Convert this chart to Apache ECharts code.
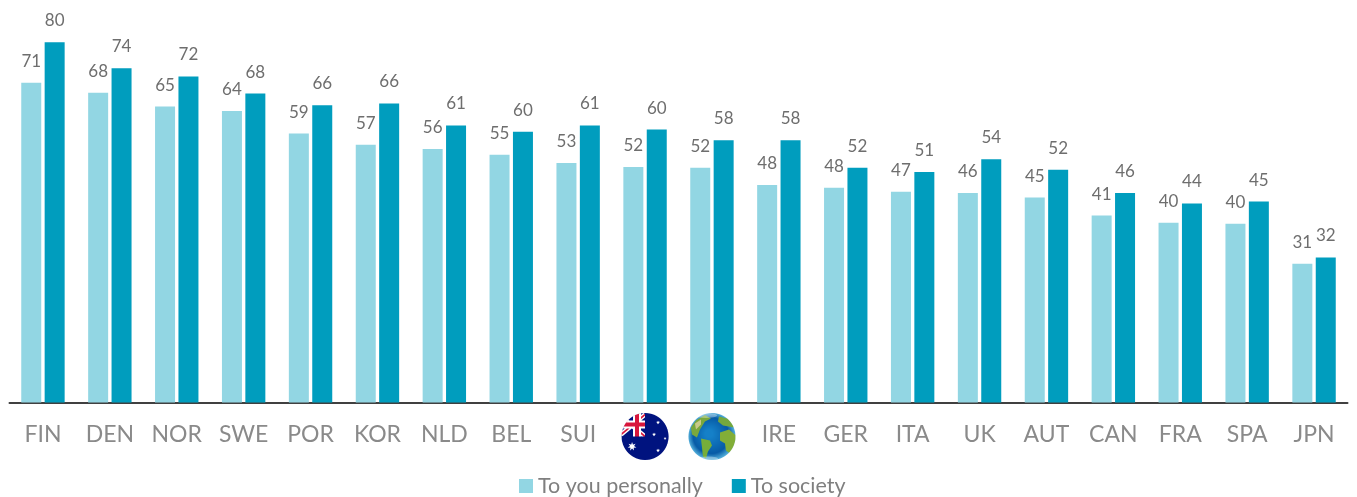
<!DOCTYPE html>
<html><head><meta charset="utf-8">
<style>html,body{margin:0;padding:0;background:#fff}#c{width:1357px;height:497px}</style>
<script src="https://cdn.jsdelivr.net/npm/echarts@6/dist/echarts.min.js"></script>
</head><body><div id="c"></div>
<script>
const categories=['FIN','DEN','NOR','SWE','POR','KOR','NLD','BEL','SUI','AUS','WORLD','IRE','GER','ITA','UK','AUT','CAN','FRA','SPA','JPN'];
const personalLabels=[71,68,65,64,59,57,56,55,53,52,52,48,48,47,46,45,41,40,40,31];
const societyLabels=[80,74,72,68,66,66,61,60,61,60,58,58,52,51,54,52,46,44,45,32];
const personalValues=[71,68.8,65.7,64.7,59.7,57.2,56.3,55,53.2,52.3,52.1,48.3,47.7,46.8,46.5,45.5,41.5,39.9,39.7,30.8];
const societyValues=[80,74.2,72.4,68.6,66,66.4,61.5,60.1,61.5,60.6,58.2,58.2,52.1,51.2,54,51.7,46.5,44.2,44.6,32.2];
const seriesNames=['To you personally','To society'];

function makeAus(){
  const c=document.createElement('canvas');c.width=c.height=96;const g=c.getContext('2d');
  g.beginPath();g.arc(48,48,47,0,Math.PI*2);g.clip();
  g.fillStyle='#00137f';g.fillRect(0,0,96,96);
  g.save();g.beginPath();g.rect(0,0,48,48);g.clip();
  g.strokeStyle='#fff';g.lineWidth=9;
  g.beginPath();g.moveTo(0,8);g.lineTo(48,48);g.stroke();
  g.beginPath();g.moveTo(48,4);g.lineTo(0,44);g.stroke();
  g.strokeStyle='#d8163c';g.lineWidth=3.5;
  g.beginPath();g.moveTo(0,8);g.lineTo(48,48);g.stroke();
  g.beginPath();g.moveTo(48,4);g.lineTo(0,44);g.stroke();
  g.fillStyle='#fff';g.fillRect(0,16,48,16);g.fillRect(24,0,16,48);
  g.fillStyle='#d8163c';g.fillRect(0,20,48,8);g.fillRect(28,0,8,48);
  g.restore();
  const star=(x,y,r)=>{g.fillStyle='#fff';g.beginPath();
    for(let i=0;i<14;i++){const a=i*Math.PI/7-Math.PI/2,q=i%2?r*.45:r;g.lineTo(x+q*Math.cos(a),y+q*Math.sin(a));}
    g.closePath();g.fill();};
  star(22,68,9);star(74,20,4);star(66,44,4);star(88,52,3);star(74,76,4);
  return c;
}
function makeGlobe(){
  const c=document.createElement('canvas');c.width=c.height=96;const g=c.getContext('2d');
  g.beginPath();g.arc(48,48,47,0,Math.PI*2);g.clip();
  let o=g.createRadialGradient(42,42,8,48,48,48);
  o.addColorStop(0,'#1580c8');o.addColorStop(.7,'#075ba6');o.addColorStop(1,'#5cb8e0');
  g.fillStyle=o;g.fillRect(0,0,96,96);
  const land=(pts,col)=>{g.fillStyle=col;g.beginPath();pts.forEach((p,i)=>i?g.lineTo(p[0],p[1]):g.moveTo(p[0],p[1]));g.closePath();g.fill();};
  land([[16,16],[34,5],[46,12],[34,18],[24,34],[18,50],[8,44],[6,30]],'#7aa83c');
  land([[14,22],[26,14],[26,24],[16,34]],'#c9c98a');
  land([[26,52],[44,56],[48,66],[40,78],[36,92],[30,88],[28,70]],'#76ae3a');
  land([[62,8],[86,14],[92,30],[70,26],[60,18]],'#74a83e');
  land([[64,40],[82,34],[96,46],[94,66],[84,82],[76,76],[74,62],[64,56]],'#82ae38');
  g.fillStyle='rgba(255,255,255,.35)';g.beginPath();g.ellipse(36,6,22,5,0,0,7);g.fill();
  g.beginPath();g.ellipse(40,92,20,4,0,0,7);g.fill();
  return c;
}
const chart=echarts.init(document.getElementById('c'),null,{renderer:'canvas'});
const textFont='Lato';
const barLabel=(labels)=>({show:true,position:'top',distance:13,color:'#6e6e6e',fontFamily:textFont,fontSize:17,
  formatter:p=>labels[p.dataIndex]});
chart.setOption({
  animation:false,backgroundColor:'#fff',
  grid:{left:9.5,right:9.5,top:3,height:399.5,containLabel:false},
  legend:{left:519,top:475,itemWidth:14,itemHeight:14,itemGap:29,icon:'rect',padding:0,
    textStyle:{color:'#7f7f7f',fontFamily:textFont,fontSize:21.5,padding:[3,0,0,0]},data:seriesNames},
  xAxis:{type:'category',data:categories,
    axisLine:{lineStyle:{color:'#404040',width:2}},axisTick:{show:false},
    axisLabel:{margin:10,interval:0,color:'#8a8a8a',fontFamily:textFont,fontSize:23,
      formatter:v=>v==='AUS'?'{aus|}':v==='WORLD'?'{globe|}':'{t|'+v+'}',
      rich:{t:{color:'#8a8a8a',fontFamily:textFont,fontSize:23,padding:[11,0,0,0]},
            aus:{width:48,height:48,backgroundColor:{image:makeAus()}},
            globe:{width:48,height:48,backgroundColor:{image:makeGlobe()}}}}},
  yAxis:{type:'value',min:0,max:88.7,show:false,splitLine:{show:false}},
  series:[
    {name:seriesNames[0],type:'bar',data:personalValues,barWidth:20,barGap:'17%',itemStyle:{color:'#92d6e3'},label:barLabel(personalLabels)},
    {name:seriesNames[1],type:'bar',data:societyValues,barWidth:20,itemStyle:{color:'#009dbe'},label:barLabel(societyLabels)}
  ]
});
</script></body></html>
